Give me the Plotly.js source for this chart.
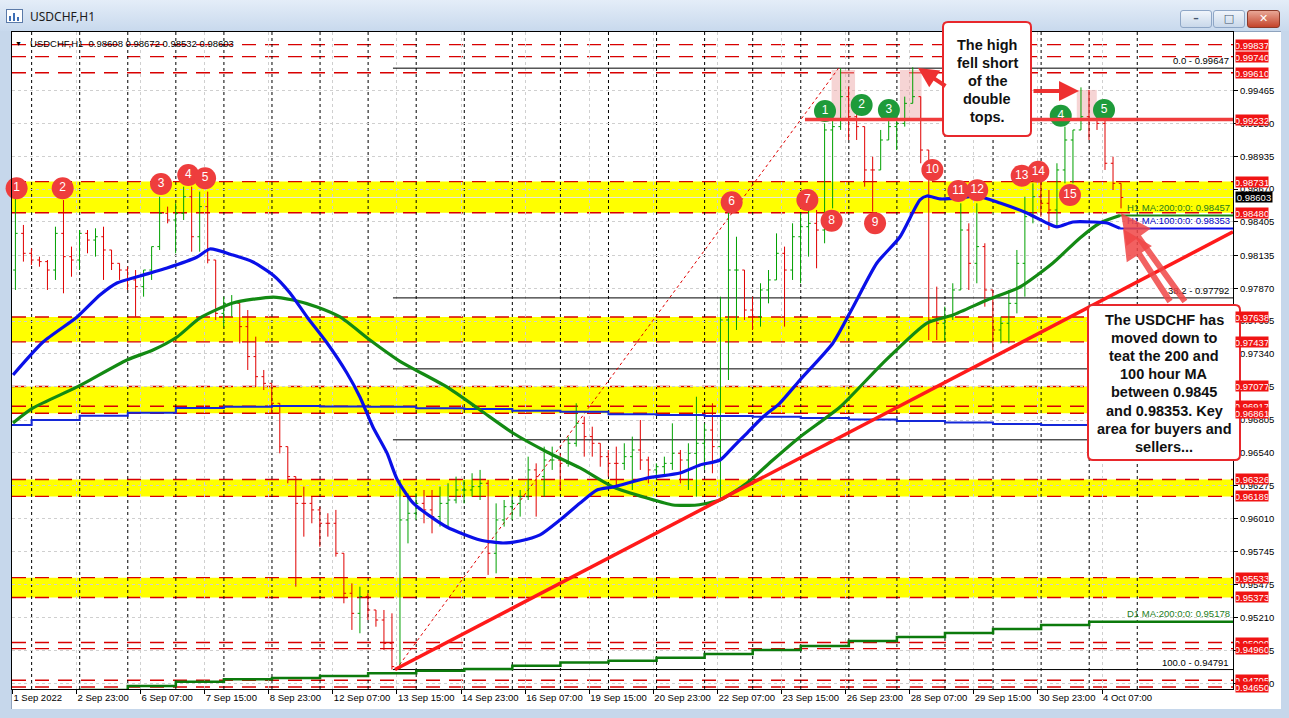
<!DOCTYPE html>
<html><head><meta charset="utf-8">
<script src="https://cdn.plot.ly/plotly-3.0.1.min.js"></script>
<style>
html,body{margin:0;padding:0;width:1289px;height:718px;overflow:hidden;background:#c6d7eb;}
#titlebar{position:absolute;left:0;top:0;width:1289px;height:31px;background:linear-gradient(#e4edf8,#c8d9ed);}
#ttl{position:absolute;left:30px;top:8px;font:12px "Noto Sans",sans-serif;color:#1b1b1b;}
#icon{position:absolute;left:6px;top:9px;width:15px;height:12px;border:1px solid #5b7aa8;background:#fff;}
#icon i{position:absolute;bottom:1px;width:2px;background:#3f6fb5;}
.btn{position:absolute;top:10px;height:16px;border:1px solid #8ea6c6;border-radius:3px;background:linear-gradient(#f0f5fb,#c9d8ea);text-align:center;font:bold 11px "DejaVu Sans",sans-serif;color:#44556d;line-height:16px;}
#bclose{background:linear-gradient(#e9a796,#c4442b);border-color:#8b3a2a;color:#fff;}
#client{position:absolute;left:11px;top:31px;width:1269px;height:677px;background:#fff;border-left:1px solid #8fa3bd;border-top:1px solid #8fa3bd;}
#chart{position:absolute;left:0;top:0;width:1289px;height:718px;}
</style></head>
<body>
<div id="titlebar"><div id="icon"><i style="left:2px;height:5px"></i><i style="left:6px;height:8px"></i><i style="left:10px;height:4px"></i></div><div id="ttl">USDCHF,H1</div>
<div class="btn" style="left:1180px;width:30px">&#8211;</div>
<div class="btn" style="left:1213px;width:30px">&#9633;</div>
<div class="btn" id="bclose" style="left:1247px;width:31px">&#10005;</div>
</div>
<div id="client"></div>
<div id="chart"></div>
<script>
// ---------------- DATA ----------------
// 4-hour OHLC blocks, hour index 0 = 1 Sep 15:00 (MT4 bar index, weekends skipped)
const barOpen  = [0.98017,0.98313,0.98152,0.98098,0.98085,0.98017,0.98313,0.98125,0.98098,0.98313,0.98259,0.98286,0.98179,0.98071,0.98017,0.97937,0.97883,0.98017,0.98206,0.98475,0.98421,0.98475,0.98609,0.98286,0.98529,0.98098,0.97667,0.97748,0.97748,0.97560,0.97318,0.97156,0.97102,0.96941,0.96591,0.96349,0.96133,0.96133,0.96080,0.95972,0.95972,0.95730,0.95407,0.95245,0.95380,0.95272,0.95191,0.95003,0.94815,0.95999,0.96053,0.96133,0.96080,0.96026,0.96133,0.96160,0.96241,0.96241,0.96268,0.96295,0.95730,0.95999,0.96106,0.96133,0.96187,0.96403,0.96349,0.96483,0.96483,0.96456,0.96618,0.96779,0.96672,0.96618,0.96510,0.96456,0.96456,0.96510,0.96564,0.96483,0.96403,0.96429,0.96456,0.96537,0.96483,0.96537,0.96618,0.96725,0.96591,0.97614,0.98017,0.98017,0.97694,0.97640,0.97856,0.97937,0.98152,0.98017,0.98286,0.98367,0.98394,0.98340,0.99148,0.99175,0.99417,0.99255,0.99175,0.98825,0.98825,0.99067,0.99175,0.99201,0.99363,0.99417,0.98986,0.97614,0.97587,0.97640,0.97856,0.98340,0.98071,0.98206,0.97856,0.97533,0.97587,0.97748,0.98071,0.98448,0.98609,0.98556,0.98502,0.98825,0.99067,0.99148,0.99255,0.99228,0.99201,0.98879,0.98717];
const barHigh  = [0.98596,0.98381,0.98192,0.98125,0.98098,0.98367,0.98582,0.98206,0.98340,0.98340,0.98354,0.98367,0.98179,0.98071,0.98044,0.98017,0.98017,0.98206,0.98609,0.98529,0.98556,0.98690,0.98690,0.98650,0.98650,0.98098,0.97802,0.97815,0.97748,0.97694,0.97479,0.97210,0.97102,0.96941,0.96591,0.96349,0.96268,0.96187,0.96106,0.96053,0.96080,0.95730,0.95487,0.95460,0.95407,0.95272,0.95272,0.95245,0.96322,0.96214,0.96214,0.96241,0.96241,0.96268,0.96295,0.96349,0.96322,0.96376,0.96403,0.96322,0.96133,0.96160,0.96187,0.96241,0.96510,0.96456,0.96591,0.96591,0.96537,0.96672,0.96941,0.96833,0.96752,0.96618,0.96564,0.96591,0.96618,0.96672,0.96806,0.96510,0.96456,0.96510,0.96779,0.96564,0.96618,0.96994,0.96779,0.96941,0.97802,0.98502,0.98286,0.98017,0.97802,0.97910,0.98017,0.98313,0.98206,0.98394,0.98475,0.98502,0.98502,0.99201,0.99228,0.99646,0.99498,0.99282,0.99175,0.98932,0.99148,0.99228,0.99228,0.99417,0.99654,0.99417,0.98986,0.97883,0.97721,0.97910,0.98556,0.98394,0.98556,0.98233,0.97856,0.97640,0.97856,0.98179,0.98609,0.98717,0.98744,0.98663,0.98879,0.99175,0.99148,0.99492,0.99471,0.99309,0.99228,0.98932,0.98717];
const barLow   = [0.97856,0.98085,0.98058,0.98044,0.97856,0.97937,0.97829,0.97963,0.98017,0.98152,0.98125,0.97937,0.98017,0.97937,0.97856,0.97640,0.97802,0.97937,0.98179,0.98394,0.98152,0.98421,0.98165,0.98165,0.98071,0.97614,0.97560,0.97640,0.97425,0.97210,0.97075,0.97048,0.96860,0.96537,0.96295,0.95460,0.95864,0.95972,0.95783,0.95864,0.95703,0.95326,0.95111,0.95084,0.95191,0.95137,0.94949,0.94791,0.94791,0.95810,0.96000,0.95972,0.95891,0.95945,0.95945,0.96133,0.96133,0.96187,0.96160,0.95555,0.95568,0.95945,0.96000,0.96026,0.96160,0.96026,0.96187,0.96403,0.96241,0.96429,0.96591,0.96510,0.96510,0.96429,0.96349,0.96241,0.96403,0.96241,0.96403,0.96295,0.96322,0.96349,0.96403,0.96295,0.96241,0.96187,0.96403,0.96376,0.96160,0.97129,0.97533,0.97614,0.97533,0.97560,0.97748,0.97937,0.97560,0.97937,0.97910,0.98125,0.98031,0.98233,0.98515,0.99148,0.99067,0.99067,0.98690,0.98488,0.98825,0.99067,0.98986,0.99175,0.99363,0.98879,0.97452,0.97452,0.97452,0.97614,0.97856,0.97856,0.97910,0.97721,0.97371,0.97425,0.97425,0.97667,0.97802,0.98394,0.98448,0.98340,0.98367,0.98717,0.98717,0.99148,0.99067,0.99148,0.98825,0.98663,0.98515];
const barClose = [0.98313,0.98152,0.98098,0.98085,0.98017,0.98313,0.98125,0.98098,0.98313,0.98259,0.98286,0.98179,0.98071,0.98017,0.97937,0.97883,0.98017,0.98206,0.98475,0.98421,0.98475,0.98609,0.98286,0.98529,0.98098,0.97667,0.97748,0.97748,0.97560,0.97318,0.97156,0.97102,0.96941,0.96591,0.96349,0.96133,0.96133,0.96080,0.95972,0.95972,0.95730,0.95407,0.95245,0.95380,0.95272,0.95191,0.95003,0.94815,0.95999,0.96053,0.96133,0.96080,0.96026,0.96133,0.96160,0.96241,0.96241,0.96268,0.96295,0.95730,0.95999,0.96106,0.96133,0.96187,0.96403,0.96349,0.96483,0.96483,0.96456,0.96618,0.96779,0.96672,0.96618,0.96510,0.96456,0.96456,0.96510,0.96564,0.96483,0.96403,0.96429,0.96456,0.96537,0.96483,0.96537,0.96618,0.96725,0.96591,0.97614,0.98017,0.98017,0.97694,0.97640,0.97856,0.97937,0.98152,0.98017,0.98286,0.98367,0.98394,0.98340,0.99148,0.99175,0.99417,0.99255,0.99175,0.98825,0.98825,0.99067,0.99175,0.99201,0.99363,0.99417,0.98986,0.97614,0.97587,0.97640,0.97856,0.98340,0.98071,0.98206,0.97856,0.97533,0.97587,0.97748,0.98071,0.98448,0.98609,0.98556,0.98502,0.98825,0.99067,0.99148,0.99255,0.99228,0.99201,0.98879,0.98717,0.98603];
const hoursPerBar = 4;

// H1 moving averages (hour index, value)
const ma100Hour = [0.3,15.3,32.3,43.7,52.2,63.7,77.2,92.2,98.6,110.1,120.1,130.1,138.6,147.1,157.1,167.0,173.5,180.0,187.0,192.0,200.0,216.9,233.5,244.9,253.4,263.4,273.4,283.4,291.9,299.9,316.8,333.3,343.3,353.3,359.8,366.8,374.7,383.2,393.2,409.7,419.7,431.6,443.1,453.1,456.6,463.1,473.1,481.6,493.1,506.5,516.5,521.5,529.5,539.5,546.5,553.0];
const ma100Val  = [0.97170,0.97436,0.97638,0.97815,0.97912,0.97969,0.98033,0.98122,0.98187,0.98138,0.98082,0.97977,0.97832,0.97638,0.97428,0.97186,0.96992,0.96750,0.96540,0.96330,0.96136,0.95942,0.95837,0.95813,0.95829,0.95878,0.95999,0.96136,0.96241,0.96265,0.96338,0.96378,0.96443,0.96483,0.96588,0.96701,0.96830,0.96943,0.97129,0.97428,0.97719,0.98074,0.98284,0.98583,0.98615,0.98591,0.98599,0.98615,0.98558,0.98478,0.98397,0.98365,0.98405,0.98405,0.98397,0.98353];
const ma200Hour = [0.3,10.3,32.3,57.2,70.2,82.2,93.7,110.1,130.1,140.1,152.1,163.6,178.5,193.5,216.9,233.5,249.9,266.9,283.4,299.9,316.8,329.8,341.8,353.3,366.8,379.7,393.2,413.2,434.6,456.6,469.6,486.6,503.0,519.5,533.0,543.0,553.0];
const ma200Val  = [0.96782,0.96903,0.97073,0.97291,0.97371,0.97476,0.97630,0.97751,0.97799,0.97775,0.97719,0.97638,0.97452,0.97280,0.97073,0.96887,0.96701,0.96548,0.96419,0.96265,0.96176,0.96120,0.96120,0.96160,0.96297,0.96483,0.96669,0.96911,0.97266,0.97589,0.97654,0.97775,0.97880,0.98074,0.98276,0.98397,0.98457];

// D1 moving averages, one value per trading day (1 Sep ... 4 Oct)
const dayStartHour = [-0.2,9.6,33.6,57.6,81.6,105.6,129.6,153.6,177.6,201.6,225.6,249.6,273.6,297.6,321.6,345.6,369.6,393.6,417.6,441.6,465.6,489.6,513.6,537.6];
const d1ma100 = [0.96766,0.96806,0.96841,0.96865,0.96903,0.96914,0.96919,0.96915,0.96914,0.96901,0.96895,0.96881,0.96873,0.96852,0.96846,0.96838,0.96833,0.96822,0.96810,0.96798,0.96786,0.96774,0.96766,0.96758];
const d1ma200 = [0.94600,0.94610,0.94625,0.94658,0.94693,0.94712,0.94723,0.94739,0.94761,0.94782,0.94796,0.94822,0.94848,0.94863,0.94887,0.94917,0.94949,0.94981,0.95022,0.95054,0.95086,0.95119,0.95151,0.95178];

// horizontal levels
const levelPrices = [0.99837,0.99740,0.99610,0.98731,0.98480,0.97638,0.97437,0.97077,0.96917,0.96861,0.96326,0.96189,0.95533,0.95373,0.95009,0.94960,0.94705,0.94650];
const zoneLow  = [0.98480,0.97437,0.96861,0.96189,0.95373];
const zoneHigh = [0.98731,0.97638,0.97077,0.96326,0.95533];
const supportPrice = 0.99232, supportStartHour = 395.7;

// Fibonacci retracement
const fibLowHour = 191.5, fibLowPrice = 0.94791, fibHighHour = 412.5, fibHighPrice = 0.99647;
const fibLevels = [0.0, 38.2, 50.0, 61.8, 100.0];
const fibLabelShown = [true, true, false, false, true];

// trend line
const trendHour = [191.0, 609.4];
const trendPrice = [0.94791, 0.98325];

// highlighted tops (hour range, price range)
const topBoxHour0 = [409.0, 443.1, 531.4], topBoxHour1 = [420.7, 453.9, 541.4];
const topBoxLow = [0.99242, 0.99242, 0.99242], topBoxHigh = [0.99633, 0.99633, 0.99471];

// numbered markers
const redNumText  = ['1','2','3','4','5','6','7','8','9','10','11','12','13','14','15'];
const redNumHour  = [2.1,25.1,74.2,87.8,96.2,359.1,396.9,409.0,430.7,459.3,472.3,481.7,503.9,512.2,528.0];
const redNumPrice = [0.98677,0.98677,0.98712,0.98784,0.98758,0.98564,0.98583,0.98415,0.98394,0.98825,0.98655,0.98661,0.98779,0.98811,0.98623];
const greenNumText  = ['1','2','3','4','5'];
const greenNumHour  = [405.7,424.0,437.6,523.4,545.0];
const greenNumPrice = [0.99301,0.99350,0.99309,0.99263,0.99309];

// axes
const xTickText = ['1 Sep 2022','2 Sep 23:00','6 Sep 07:00','7 Sep 15:00','8 Sep 23:00','12 Sep 07:00','13 Sep 15:00','14 Sep 23:00','16 Sep 07:00','19 Sep 15:00','20 Sep 23:00','22 Sep 07:00','23 Sep 15:00','26 Sep 23:00','28 Sep 07:00','29 Sep 15:00','30 Sep 23:00','4 Oct 07:00'];
const xTickStep = 32;
const yTickVals = [0.99465,0.99200,0.98935,0.98670,0.98405,0.98135,0.97870,0.97605,0.97340,0.97075,0.96805,0.96540,0.96275,0.96010,0.95745,0.95475,0.95210,0.94945,0.94680];
const headerText = 'USDCHF,H1  0.98608 0.98672 0.98532 0.98603';
const boxTopLines = ['The high','fell short','of the','double','tops.'];
const boxRightLines = ['The USDCHF has','moved down to','teat the 200 and','100 hour MA','between 0.9845','and 0.98353. Key','area for buyers and','sellers...'];

// ---------------- LAYOUT HELPERS ----------------
const W = 1289, H = 718, PL = 12, PR = 1233, PT = 32, PB = 689;
const X_RANGE = [-0.2, 609.4], Y_RANGE = [0.94634, 0.99939];
const fx = px => (px - PL) / (PR - PL);
const fy = py => (PB - py) / (PB - PT);
function rrect(x0, y0, x1, y1, r) {
  const X = fx, Y = fy;
  return `M${X(x0+r)},${Y(y0)} L${X(x1-r)},${Y(y0)} Q${X(x1)},${Y(y0)} ${X(x1)},${Y(y0+r)} L${X(x1)},${Y(y1-r)} Q${X(x1)},${Y(y1)} ${X(x1-r)},${Y(y1)} L${X(x0+r)},${Y(y1)} Q${X(x0)},${Y(y1)} ${X(x0)},${Y(y1-r)} L${X(x0)},${Y(y0+r)} Q${X(x0)},${Y(y0)} ${X(x0+r)},${Y(y0)} Z`;
}
const FONT = '"Liberation Sans", Arial, sans-serif';
const RED = '#d80000';

// ---------------- TRACES ----------------
const barX = barClose.map((_, k) => k * hoursPerBar + 1.5);
const lastHour = barX[barX.length - 1];
const traces = [];
traces.push({type:'ohlc', x:barX, open:barOpen, high:barHigh, low:barLow, close:barClose,
  increasing:{line:{color:'#00a000', width:1}}, decreasing:{line:{color:'#e00000', width:1}},
  tickwidth:0.28, hoverinfo:'skip', showlegend:false});
traces.push({type:'scatter', mode:'lines', x:dayStartHour.concat([lastHour]), y:d1ma100.concat([d1ma100[d1ma100.length-1]]),
  line:{color:'#1428d8', width:2, shape:'hv'}, hoverinfo:'skip', showlegend:false});
traces.push({type:'scatter', mode:'lines', x:dayStartHour.concat([X_RANGE[1]]), y:d1ma200.concat([d1ma200[d1ma200.length-1]]),
  line:{color:'#0c7a0c', width:2.5, shape:'hv'}, hoverinfo:'skip', showlegend:false});
traces.push({type:'scatter', mode:'lines', x:ma200Hour, y:ma200Val, line:{color:'#138a13', width:3.2, shape:'spline', smoothing:0.6}, hoverinfo:'skip', showlegend:false});
traces.push({type:'scatter', mode:'lines', x:ma100Hour, y:ma100Val, line:{color:'#0a10e8', width:3.2, shape:'spline', smoothing:0.6}, hoverinfo:'skip', showlegend:false});
traces.push({type:'scatter', mode:'lines', x:[ma200Hour[ma200Hour.length-1], X_RANGE[1]], y:[ma200Val[ma200Val.length-1], ma200Val[ma200Val.length-1]], line:{color:'#138a13', width:2}, hoverinfo:'skip', showlegend:false});
traces.push({type:'scatter', mode:'lines', x:[ma100Hour[ma100Hour.length-1], X_RANGE[1]], y:[ma100Val[ma100Val.length-1], ma100Val[ma100Val.length-1]], line:{color:'#0a10e8', width:2}, hoverinfo:'skip', showlegend:false});
traces.push({type:'scatter', mode:'lines', x:trendHour, y:trendPrice, line:{color:'#ff1a1a', width:3.5}, hoverinfo:'skip', showlegend:false});
traces.push({type:'scatter', mode:'markers+text', x:redNumHour, y:redNumPrice, text:redNumText, textposition:'middle center',
  marker:{size:22, color:'#ee3d3d', line:{width:0}}, textfont:{color:'#ffffff', size:12, family:FONT}, cliponaxis:false, hoverinfo:'skip', showlegend:false});
traces.push({type:'scatter', mode:'markers+text', x:greenNumHour, y:greenNumPrice, text:greenNumText, textposition:'middle center',
  marker:{size:22, color:'#1e9b3a', line:{width:0}}, textfont:{color:'#ffffff', size:12, family:FONT}, cliponaxis:false, hoverinfo:'skip', showlegend:false});

// ---------------- SHAPES ----------------
const shapes = [];
zoneLow.forEach((lo, k) => shapes.push({type:'rect', xref:'paper', x0:0, x1:1, yref:'y', y0:lo, y1:zoneHigh[k], fillcolor:'#ffff00', line:{width:0}, layer:'below'}));
levelPrices.forEach(p => shapes.push({type:'line', xref:'paper', x0:0, x1:1, yref:'y', y0:p, y1:p, line:{color:RED, width:1.4, dash:'14px,9px'}, layer:'between'}));
for (let h = dayStartHour[1]; h < X_RANGE[1] - 40; h += 24)
  shapes.push({type:'line', xref:'x', x0:h, x1:h, yref:'paper', y0:0, y1:1, line:{color:'#000', width:1, dash:'3px,3px'}, layer:'between'});
topBoxHour0.forEach((h0, k) => shapes.push({type:'rect', xref:'x', x0:h0, x1:topBoxHour1[k], yref:'y', y0:topBoxLow[k], y1:topBoxHigh[k], fillcolor:'rgba(238,170,170,0.5)', line:{width:0}, layer:'between'}));
shapes.push({type:'line', xref:'paper', x0:0, x1:1, yref:'y', y0:barClose[barClose.length-1], y1:barClose[barClose.length-1], line:{color:'#e6e6e6', width:1}, layer:'between'});
const fibRange = fibHighPrice - fibLowPrice;
const fibPrice = fibLevels.map(l => fibHighPrice - l / 100 * fibRange);
fibPrice.forEach(p => shapes.push({type:'line', xref:'x', x0:fibLowHour - 1.5, x1:X_RANGE[1], yref:'y', y0:p, y1:p, line:{color:'#000', width:1}, layer:'between'}));
shapes.push({type:'line', xref:'x', yref:'y', x0:fibLowHour, y0:fibLowPrice, x1:fibHighHour, y1:fibHighPrice, line:{color:'#e00000', width:1, dash:'dot'}, layer:'between'});
shapes.push({type:'line', xref:'x', x0:supportStartHour, x1:X_RANGE[1], yref:'y', y0:supportPrice, y1:supportPrice, line:{color:'#f03c3c', width:3.5}, layer:'above'});
shapes.push({type:'path', xref:'paper', yref:'paper', path:rrect(943, 22, 1031, 136, 5), fillcolor:'#ffffff', line:{color:'#e8282c', width:2}, layer:'above'});
shapes.push({type:'path', xref:'paper', yref:'paper', path:rrect(1088, 305, 1240, 460, 5), fillcolor:'#ffffff', line:{color:'#e8282c', width:2}, layer:'above'});

// ---------------- ANNOTATIONS ----------------
const ann = [];
ann.push({xref:'paper', yref:'paper', x:fx(18), y:fy(43), text:'▼', showarrow:false, font:{size:7, color:'#000', family:FONT}, xanchor:'center', yanchor:'middle'});
ann.push({xref:'paper', yref:'paper', x:fx(28), y:fy(43), text:headerText, showarrow:false, font:{size:9.5, color:'#000', family:FONT}, xanchor:'left', yanchor:'middle'});
ann.push({xref:'paper', yref:'y', x:1, xshift:-1, y:ma200Val[ma200Val.length-1], yshift:1, text:'H1 MA:200:0:0: ' + ma200Val[ma200Val.length-1].toFixed(5), showarrow:false, xanchor:'right', yanchor:'bottom', font:{size:9.5, color:'#1d7d1d', family:FONT}});
ann.push({xref:'paper', yref:'y', x:1, xshift:-1, y:ma100Val[ma100Val.length-1], yshift:0, text:'H1 MA:100:0:0: ' + ma100Val[ma100Val.length-1].toFixed(5), showarrow:false, xanchor:'right', yanchor:'bottom', font:{size:9.5, color:'#0000c8', family:FONT}});
ann.push({xref:'paper', yref:'y', x:1, xshift:-1, y:d1ma200[d1ma200.length-1], yshift:1, text:'D1 MA:200:0:0: ' + d1ma200[d1ma200.length-1].toFixed(5), showarrow:false, xanchor:'right', yanchor:'bottom', font:{size:9.5, color:'#1d7d1d', family:FONT}});
fibLevels.forEach((l, k) => { if (fibLabelShown[k]) ann.push({xref:'paper', yref:'y', x:1, xshift:-2, y:fibPrice[k], text:l.toFixed(1) + ' - ' + fibPrice[k].toFixed(5), showarrow:false, xanchor:'right', yanchor:'bottom', font:{size:9.5, color:'#000', family:FONT}}); });
const axisLabels = levelPrices.concat([supportPrice]);
axisLabels.forEach(p => ann.push({xref:'paper', yref:'y', x:1, xshift:2, y:p, text:p.toFixed(5), showarrow:false, xanchor:'left', yanchor:'middle', bgcolor:'#f01414', borderpad:0, width:32, height:10, font:{size:9.5, color:'#fff', family:FONT}}));
ann.push({xref:'paper', yref:'y', x:1, xshift:2, y:barClose[barClose.length-1], text:barClose[barClose.length-1].toFixed(5), showarrow:false, xanchor:'left', yanchor:'middle', bgcolor:'#000', borderpad:0, width:36, height:10, font:{size:9.5, color:'#fff', family:FONT}});
boxTopLines.forEach((t, k) => ann.push({xref:'paper', yref:'paper', x:fx(987), y:fy(45.5 + 18 * k), text:'<b>' + t + '</b>', showarrow:false, xanchor:'center', yanchor:'middle', font:{size:14.5, color:'#111', family:FONT}}));
boxRightLines.forEach((t, k) => ann.push({xref:'paper', yref:'paper', x:fx(1164), y:fy(320 + 18.1 * k), text:'<b>' + t + '</b>', showarrow:false, xanchor:'center', yanchor:'middle', font:{size:14.5, color:'#111', family:FONT}}));
const arrow = (tx, ty, sx, sy, w, c) => ({xref:'paper', yref:'paper', x:fx(tx), y:fy(ty), ax:sx - tx, ay:sy - ty, text:'', showarrow:true, arrowhead:2, arrowsize:1, arrowwidth:w, arrowcolor:c});
ann.push(arrow(918, 68, 947, 87, 4, '#ee3030'));
ann.push(arrow(1079, 91, 1032, 91, 4, '#ee3030'));
ann.push(arrow(1121, 213, 1186, 303, 6, 'rgba(240,70,70,0.85)'));
ann.push(arrow(1123, 229, 1171, 303, 6, 'rgba(240,70,70,0.85)'));

// ---------------- LAYOUT ----------------
const layout = {
  width:W, height:H, margin:{l:PL, r:W - PR, t:PT, b:H - PB, pad:0},
  paper_bgcolor:'rgba(0,0,0,0)', plot_bgcolor:'#ffffff', showlegend:false,
  font:{family:FONT, size:9.5, color:'#000'},
  xaxis:{range:X_RANGE, type:'linear', showline:true, mirror:true, linecolor:'#000', linewidth:1, zeroline:false,
    tickmode:'array', tickvals:xTickText.map((_, k) => k * xTickStep), ticktext:xTickText, ticks:'outside', ticklen:4, tickcolor:'#000',
    ticklabelposition:'outside right', tickangle:0, automargin:false, tickfont:{size:9.5, color:'#000', family:FONT},
    showgrid:true, gridcolor:'#cfcfcf', griddash:'dot', gridwidth:1, rangeslider:{visible:false}, fixedrange:true},
  yaxis:{range:Y_RANGE, side:'right', showline:true, mirror:true, linecolor:'#000', linewidth:1, zeroline:false,
    tickmode:'array', tickvals:yTickVals, ticktext:yTickVals.map(v => v.toFixed(5)), ticks:'outside', ticklen:4, tickcolor:'#000',
    automargin:false, tickfont:{size:9.5, color:'#000', family:FONT}, showgrid:true, gridcolor:'#cfcfcf', griddash:'dot', gridwidth:1, fixedrange:true},
  shapes:shapes, annotations:ann
};
Plotly.newPlot('chart', traces, layout, {staticPlot:true, displayModeBar:false});
</script>
</body></html>
